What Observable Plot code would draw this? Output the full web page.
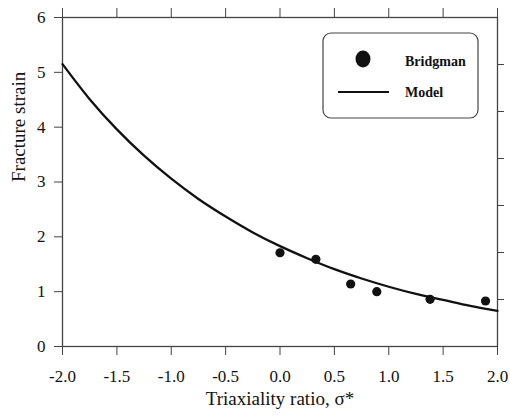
<!DOCTYPE html>
<html>
<head>
<meta charset="utf-8">
<script src="https://cdn.jsdelivr.net/npm/d3@7"></script>
<script src="https://cdn.jsdelivr.net/npm/@observablehq/plot@0.6"></script>
<style>
  html, body { margin: 0; padding: 0; background: #fff; }
  #chart svg { display: block; }
</style>
</head>
<body>
<div id="chart"></div>
<script>
// Bridgman experimental data
const bridgmanX = [0.0, 0.33, 0.65, 0.89, 1.38, 1.89];
const bridgmanY = [1.71, 1.59, 1.14, 1.00, 0.86, 0.83];

// Model curve
const modelX = [-2.0, -1.75, -1.5, -1.25, -1.0, -0.75, -0.5, -0.25, 0.0, 0.25, 0.5, 0.75, 1.0, 1.25, 1.5, 1.75, 2.0];
const modelY = [5.15, 4.51, 3.96, 3.48, 3.06, 2.69, 2.37, 2.08, 1.83, 1.61, 1.41, 1.24, 1.09, 0.96, 0.85, 0.74, 0.65];

// Tick values
const xTicks = [-2.0, -1.5, -1.0, -0.5, 0.0, 0.5, 1.0, 1.5, 2.0];
const xTickLabels = ["-2.0", "-1.5", "-1.0", "-0.5", "0.0", "0.5", "1.0", "1.5", "2.0"];
const yTicks = [0, 1, 2, 3, 4, 5, 6];
const yTickLabels = ["0", "1", "2", "3", "4", "5", "6"];
const rightTicks = [6/7, 12/7, 18/7, 24/7, 30/7, 36/7];

const xLabel = "Triaxiality ratio, σ*";
const yLabel = "Fracture strain";
const legendLabels = ["Bridgman", "Model"];

const bridgman = bridgmanX.map((x, i) => ({x, y: bridgmanY[i]}));
const model = modelX.map((x, i) => ({x, y: modelY[i]}));

const font = "'Liberation Serif', 'DejaVu Serif', serif";
const axisColor = "#444";

const plot = Plot.plot({
  width: 510,
  height: 416,
  marginLeft: 62,
  marginRight: 13,
  marginTop: 17,
  marginBottom: 70,
  style: {fontFamily: font, fontSize: "17px", color: "#111", background: "#fff"},
  x: {domain: [-2, 2]},
  y: {domain: [0, 6]},
  marks: [
    Plot.frame({stroke: axisColor, strokeWidth: 1.3}),
    Plot.axisX({anchor: "bottom", ticks: xTicks, tickSize: 9, tickPadding: 14,
      tickFormat: d => xTickLabels[xTicks.indexOf(d)] ?? "", label: null,
      stroke: axisColor, fontSize: 17, fill: "#111"}),
    Plot.axisX({anchor: "top", ticks: xTicks, tickSize: 10, tickFormat: () => "", label: null, stroke: axisColor}),
    Plot.axisY({anchor: "left", ticks: yTicks, tickSize: 8, tickPadding: 9,
      tickFormat: d => yTickLabels[yTicks.indexOf(d)] ?? "", label: null,
      stroke: axisColor, fontSize: 17, fill: "#111"}),
    Plot.axisY({anchor: "right", ticks: rightTicks, tickSize: 6, tickFormat: () => "", label: null, stroke: axisColor}),
    Plot.line(model, {x: "x", y: "y", curve: "natural", stroke: "#111", strokeWidth: 2.3}),
    Plot.dot(bridgman, {x: "x", y: "y", r: 4.6, fill: "#111", stroke: "none"}),
    Plot.text([xLabel], {frameAnchor: "bottom", dy: 58, fontSize: 19, fill: "#111", text: d => d}),
    Plot.text([yLabel], {frameAnchor: "left", dx: -44, rotate: -90, fontSize: 19, fill: "#111", text: d => d})
  ]
});

document.getElementById("chart").appendChild(plot);

// Legend box (layout only)
const svg = d3.select(plot);
const lg = svg.append("g").attr("font-family", font).attr("text-anchor", "start");
lg.append("rect").attr("x", 323).attr("y", 33).attr("width", 155).attr("height", 85)
  .attr("rx", 8).attr("fill", "#fff").attr("stroke", axisColor).attr("stroke-width", 1.2);
lg.append("ellipse").attr("cx", 363).attr("cy", 59).attr("rx", 7.5).attr("ry", 8.5).attr("fill", "#111");
lg.append("line").attr("x1", 338).attr("x2", 389).attr("y1", 92).attr("y2", 92)
  .attr("stroke", "#111").attr("stroke-width", 2);
lg.append("text").attr("x", 405).attr("y", 62).attr("dy", "0.32em").attr("font-size", 14)
  .attr("font-weight", "bold").attr("fill", "#111").text(legendLabels[0]);
lg.append("text").attr("x", 405).attr("y", 93).attr("dy", "0.32em").attr("font-size", 14)
  .attr("font-weight", "bold").attr("fill", "#111").text(legendLabels[1]);
</script>
</body>
</html>
